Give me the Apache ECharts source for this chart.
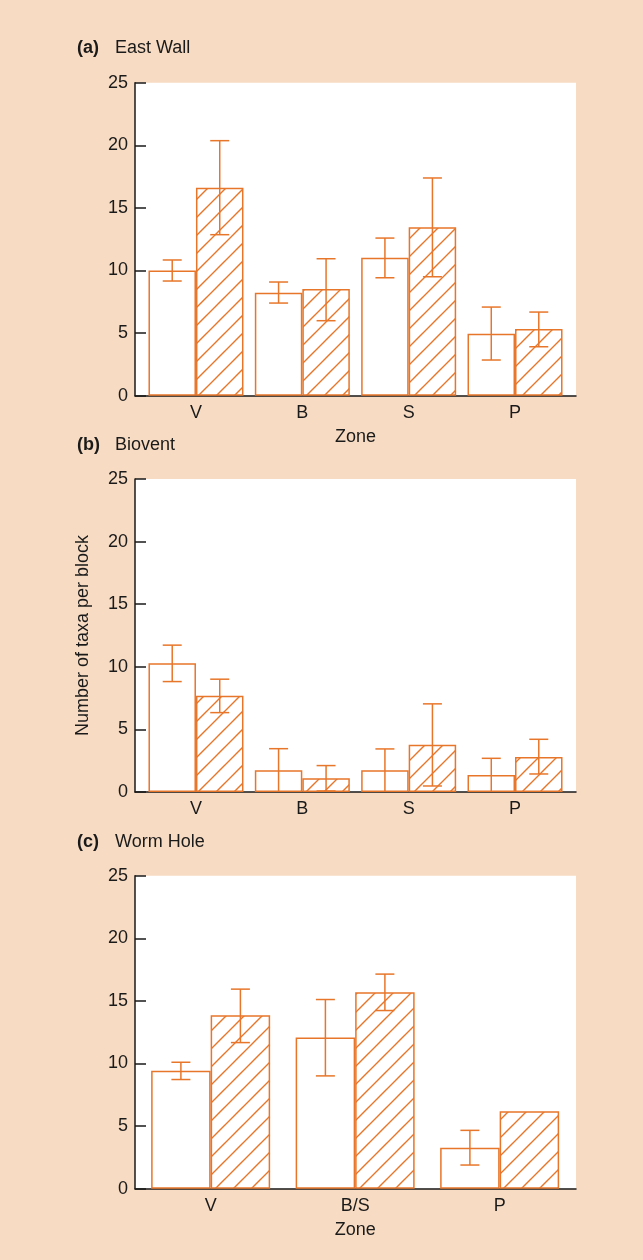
<!DOCTYPE html>
<html><head><meta charset="utf-8">
<script src="https://cdn.jsdelivr.net/npm/echarts@6/dist/echarts.min.js"></script>
<style>html,body{margin:0;padding:0;background:#F7DBC3;}#c{width:643px;height:1260px;}</style>
</head><body><div id="c"></div>
<script>
// ---- data ----
const catsAB = ['V', 'B', 'S', 'P'];
const catsC = ['V', 'B/S', 'P'];
const yTicks = [0, 5, 10, 15, 20, 25];

const eastOpen = [10.0, 8.23, 11.02, 4.95];
const eastOpenLo = [9.16, 7.40, 9.42, 2.85];
const eastOpenHi = [10.84, 9.08, 12.59, 7.08];
const eastHatch = [16.6, 8.52, 13.45, 5.32];
const eastHatchLo = [12.86, 5.99, 9.50, 3.91];
const eastHatchHi = [20.37, 10.94, 17.39, 6.68];

const bioOpen = [10.29, 1.73, 1.73, 1.36];
const bioOpenLo = [8.82, 0, 0, 0];
const bioOpenHi = [11.73, 3.46, 3.44, 2.69];
const bioHatch = [7.68, 1.09, 3.78, 2.80];
const bioHatchLo = [6.34, 0.08, 0.48, 1.44];
const bioHatchHi = [9.01, 2.11, 7.04, 4.21];

const wormOpen = [9.43, 12.07, 3.28];
const wormOpenLo = [8.72, 9.01, 1.89];
const wormOpenHi = [10.10, 15.11, 4.66];
const wormHatch = [13.86, 15.70, 6.18];
const wormHatchLo = [11.67, 14.23, null];
const wormHatchHi = [15.94, 17.14, null];

const titles = [['(a)', 'East Wall'], ['(b)', 'Biovent'], ['(c)', 'Worm Hole']];
const yName = 'Number of taxa per block';
const xName = 'Zone';

// ---- styles ----
const ORANGE = '#E8762A';
const INK = '#1a1a1a';
const FONT = 'Liberation Sans, Arial, sans-serif';
const FS = 18;

function hatchPattern() {
  const s = 18;
  const cv = document.createElement('canvas');
  cv.width = s; cv.height = s;
  const g = cv.getContext('2d');
  g.fillStyle = '#fff'; g.fillRect(0, 0, s, s);
  g.strokeStyle = ORANGE; g.lineWidth = 1.4;
  g.beginPath();
  g.moveTo(-2, s + 2); g.lineTo(s + 2, -2);
  g.moveTo(-2, 2); g.lineTo(2, -2);
  g.moveTo(s - 2, s + 2); g.lineTo(s + 2, s - 2);
  g.stroke();
  return { image: cv, repeat: 'repeat' };
}
const pattern = hatchPattern();

const panels = [
  { cats: catsAB, open: eastOpen, oLo: eastOpenLo, oHi: eastOpenHi, hatch: eastHatch, hLo: eastHatchLo, hHi: eastHatchHi,
    top: 82.7, innerLeft: 142.8, innerW: 425.4, bw: 47.5, zone: true, yname: false },
  { cats: catsAB, open: bioOpen, oLo: bioOpenLo, oHi: bioOpenHi, hatch: bioHatch, hLo: bioHatchLo, hHi: bioHatchHi,
    top: 479, innerLeft: 142.8, innerW: 425.4, bw: 47.5, zone: false, yname: true },
  { cats: catsC, open: wormOpen, oLo: wormOpenLo, oHi: wormOpenHi, hatch: wormHatch, hLo: wormHatchLo, hHi: wormHatchHi,
    top: 875.7, innerLeft: 138.4, innerW: 433.5, bw: 59.5, zone: true, yname: false }
];
const plotLeft = 135, plotRight = 576, plotH = 313;

const grid = [], xAxis = [], yAxis = [], series = [], title = [];

panels.forEach((p, i) => {
  const og = 2 * i, ig = 2 * i + 1;
  grid.push({ left: plotLeft, top: p.top, width: plotRight - plotLeft, height: plotH,
    show: true, backgroundColor: '#fff', borderWidth: 0 });
  grid.push({ left: p.innerLeft, top: p.top, width: p.innerW, height: plotH, show: false });

  // outer axes
  xAxis.push({ gridIndex: og, type: 'value', min: 0, max: 1,
    axisLine: { show: true, lineStyle: { color: INK, width: 1.5 } },
    axisTick: { show: false }, axisLabel: { show: false }, splitLine: { show: false } });
  yAxis.push({ gridIndex: og, type: 'value', min: 0, max: 25, interval: 5,
    axisLine: { show: true, lineStyle: { color: INK, width: 1.5 } },
    axisTick: { show: true, inside: true, length: 11, lineStyle: { color: INK, width: 1.5 } },
    axisLabel: { show: true, color: INK, fontSize: FS, fontFamily: FONT, margin: 7,
      customValues: yTicks },
    splitLine: { show: false },
    name: p.yname ? yName : '', nameLocation: 'middle', nameGap: 43, nameRotate: 90,
    nameTextStyle: { color: INK, fontSize: FS, fontFamily: FONT } });

  // inner axes
  xAxis.push({ gridIndex: ig, type: 'category', data: p.cats,
    axisLine: { show: false }, axisTick: { show: false },
    axisLabel: { color: INK, fontSize: FS, fontFamily: FONT, margin: 8 },
    name: p.zone ? xName : '', nameLocation: 'middle', nameGap: 32,
    nameTextStyle: { color: INK, fontSize: FS, fontFamily: FONT } });
  yAxis.push({ gridIndex: ig, type: 'value', min: 0, max: 25, show: false });

  const xi = ig, yi = ig;
  series.push({ type: 'bar', xAxisIndex: xi, yAxisIndex: yi, data: p.open,
    barWidth: p.bw, barGap: '0%',
    itemStyle: { color: '#fff', borderColor: ORANGE, borderWidth: 1.5 } });
  series.push({ type: 'bar', xAxisIndex: xi, yAxisIndex: yi, data: p.hatch,
    barWidth: p.bw, barGap: '0%',
    itemStyle: { color: pattern, borderColor: ORANGE, borderWidth: 1.5 } });

  [[p.oLo, p.oHi, -1], [p.hLo, p.hHi, 1]].forEach(([lo, hi, side]) => {
    const data = [];
    lo.forEach((v, k) => { if (v !== null && hi[k] !== null) data.push([k, v, hi[k]]); });
    series.push({ type: 'custom', xAxisIndex: xi, yAxisIndex: yi, z: 3, data,
      encode: { x: 0, y: [1, 2] },
      renderItem: (params, api) => {
        const c = api.value(0), l = api.value(1), h = api.value(2);
        const pt = api.coord([c, h]);
        const pb = api.coord([c, l]);
        const x = pt[0] + side * p.bw / 2;
        const cap = 9.5;
        const st = { stroke: ORANGE, lineWidth: 1.5, fill: null };
        const children = [
          { type: 'line', shape: { x1: x, y1: pt[1], x2: x, y2: pb[1] }, style: st },
          { type: 'line', shape: { x1: x - cap, y1: pt[1], x2: x + cap, y2: pt[1] }, style: st }
        ];
        if (l > 0) children.push({ type: 'line', shape: { x1: x - cap, y1: pb[1], x2: x + cap, y2: pb[1] }, style: st });
        return { type: 'group', children };
      } });
  });
});

const titleTops = [34, 431, 828];
titles.forEach((t, i) => {
  title.push({ left: 72, top: titleTops[i], text: '{b|' + t[0] + '}{n|' + t[1] + '}',
    textStyle: { fontWeight: 'normal', fontSize: FS, rich: {
      b: { fontWeight: 'bold', fontSize: FS, color: INK, fontFamily: FONT, width: 38 },
      n: { fontWeight: 'normal', fontSize: FS, color: INK, fontFamily: FONT } } } });
});

const chart = echarts.init(document.getElementById('c'), null, { renderer: 'canvas' });
chart.setOption({ backgroundColor: '#F7DBC3', animation: false, title, grid, xAxis, yAxis, series });
</script></body></html>
